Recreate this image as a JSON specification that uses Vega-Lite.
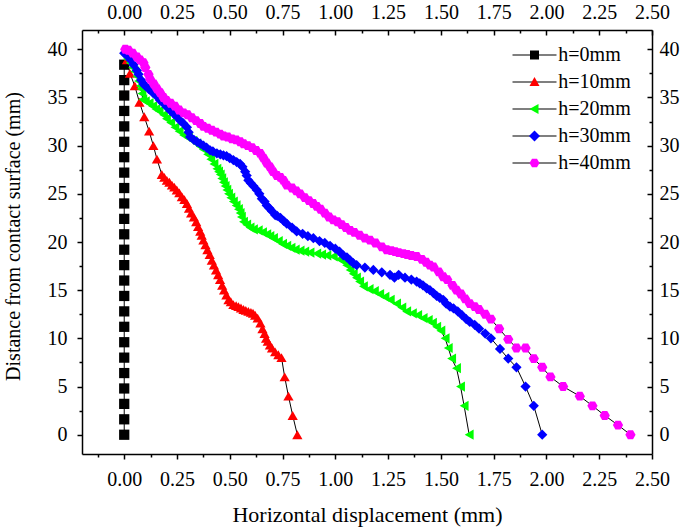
{
"$schema":"https://vega.github.io/schema/vega-lite/v6.json",
"width":570,"height":424,"autosize":"none",
"padding":{"left":82,"top":30,"right":33,"bottom":76},
"background":"white",
"config":{"view":{"stroke":null},
 "axis":{"labelFont":"Liberation Serif","labelFontSize":20,"labelColor":"black","tickColor":"black","domainColor":"black","domainWidth":1.5,"tickWidth":1.5,"grid":false,"labelFlush":false,"labelOverlap":false,"titleFont":"Liberation Serif","titleFontSize":22,"titleFontWeight":"normal","titleColor":"black"}},
"data":{"values":[
{"s":"h=0mm","x":0,"y":38.4},{"s":"h=0mm","x":0,"y":36.8},{"s":"h=0mm","x":0,"y":35.2},{"s":"h=0mm","x":0,"y":33.6},{"s":"h=0mm","x":0,"y":32},{"s":"h=0mm","x":0,"y":30.4},{"s":"h=0mm","x":0,"y":28.8},{"s":"h=0mm","x":0,"y":27.2},{"s":"h=0mm","x":0,"y":25.6},{"s":"h=0mm","x":0,"y":24},{"s":"h=0mm","x":0,"y":22.4},{"s":"h=0mm","x":0,"y":20.8},{"s":"h=0mm","x":0,"y":19.2},{"s":"h=0mm","x":0,"y":17.6},{"s":"h=0mm","x":0,"y":16},{"s":"h=0mm","x":0,"y":14.4},{"s":"h=0mm","x":0,"y":12.8},{"s":"h=0mm","x":0,"y":11.2},{"s":"h=0mm","x":0,"y":9.6},{"s":"h=0mm","x":0,"y":8},{"s":"h=0mm","x":0,"y":6.4},{"s":"h=0mm","x":0,"y":4.8},{"s":"h=0mm","x":0,"y":3.2},{"s":"h=0mm","x":0,"y":1.6},{"s":"h=0mm","x":0,"y":0},
{"s":"h=10mm","x":0.013,"y":38.9},{"s":"h=10mm","x":0.027,"y":37.5},{"s":"h=10mm","x":0.05,"y":36.2},{"s":"h=10mm","x":0.072,"y":34.5},{"s":"h=10mm","x":0.095,"y":33.0},{"s":"h=10mm","x":0.118,"y":31.5},{"s":"h=10mm","x":0.138,"y":30.0},{"s":"h=10mm","x":0.155,"y":28.6},{"s":"h=10mm","x":0.178,"y":27.0},{"s":"h=10mm","x":0.19,"y":26.7},{"s":"h=10mm","x":0.202,"y":26.4},{"s":"h=10mm","x":0.214,"y":26.2},{"s":"h=10mm","x":0.226,"y":25.9},{"s":"h=10mm","x":0.237,"y":25.7},{"s":"h=10mm","x":0.249,"y":25.4},{"s":"h=10mm","x":0.261,"y":25.1},{"s":"h=10mm","x":0.273,"y":24.7},{"s":"h=10mm","x":0.285,"y":24.4},{"s":"h=10mm","x":0.297,"y":24.0},{"s":"h=10mm","x":0.307,"y":23.5},{"s":"h=10mm","x":0.317,"y":23.0},{"s":"h=10mm","x":0.33,"y":22.6},{"s":"h=10mm","x":0.341,"y":22.1},{"s":"h=10mm","x":0.35,"y":21.6},{"s":"h=10mm","x":0.36,"y":21.1},{"s":"h=10mm","x":0.367,"y":20.7},{"s":"h=10mm","x":0.375,"y":20.2},{"s":"h=10mm","x":0.385,"y":19.7},{"s":"h=10mm","x":0.394,"y":19.2},{"s":"h=10mm","x":0.405,"y":18.7},{"s":"h=10mm","x":0.415,"y":18.1},{"s":"h=10mm","x":0.425,"y":17.6},{"s":"h=10mm","x":0.435,"y":17.1},{"s":"h=10mm","x":0.445,"y":16.6},{"s":"h=10mm","x":0.454,"y":16.1},{"s":"h=10mm","x":0.464,"y":15.5},{"s":"h=10mm","x":0.473,"y":15.0},{"s":"h=10mm","x":0.484,"y":14.5},{"s":"h=10mm","x":0.494,"y":14.0},{"s":"h=10mm","x":0.505,"y":13.8},{"s":"h=10mm","x":0.517,"y":13.5},{"s":"h=10mm","x":0.53,"y":13.4},{"s":"h=10mm","x":0.541,"y":13.3},{"s":"h=10mm","x":0.553,"y":13.15},{"s":"h=10mm","x":0.565,"y":13.0},{"s":"h=10mm","x":0.576,"y":12.9},{"s":"h=10mm","x":0.588,"y":12.8},{"s":"h=10mm","x":0.6,"y":12.7},{"s":"h=10mm","x":0.61,"y":12.6},{"s":"h=10mm","x":0.62,"y":12.4},{"s":"h=10mm","x":0.632,"y":12.1},{"s":"h=10mm","x":0.645,"y":11.6},{"s":"h=10mm","x":0.655,"y":11.0},{"s":"h=10mm","x":0.665,"y":10.5},{"s":"h=10mm","x":0.672,"y":10.0},{"s":"h=10mm","x":0.68,"y":9.7},{"s":"h=10mm","x":0.69,"y":9.3},{"s":"h=10mm","x":0.7,"y":9.0},{"s":"h=10mm","x":0.715,"y":8.6},{"s":"h=10mm","x":0.73,"y":8.3},{"s":"h=10mm","x":0.745,"y":8.0},{"s":"h=10mm","x":0.76,"y":6.0},{"s":"h=10mm","x":0.778,"y":4.0},{"s":"h=10mm","x":0.798,"y":2.0},{"s":"h=10mm","x":0.82,"y":0},
{"s":"h=20mm","x":0.005,"y":39.4},{"s":"h=20mm","x":0.015,"y":39.0},{"s":"h=20mm","x":0.028,"y":38.6},{"s":"h=20mm","x":0.04,"y":38.1},{"s":"h=20mm","x":0.05,"y":37.7},{"s":"h=20mm","x":0.06,"y":37.2},{"s":"h=20mm","x":0.068,"y":36.7},{"s":"h=20mm","x":0.076,"y":36.2},{"s":"h=20mm","x":0.08,"y":35.9},{"s":"h=20mm","x":0.084,"y":35.4},{"s":"h=20mm","x":0.088,"y":34.8},{"s":"h=20mm","x":0.1,"y":34.6},{"s":"h=20mm","x":0.118,"y":34.4},{"s":"h=20mm","x":0.135,"y":34.1},{"s":"h=20mm","x":0.15,"y":33.8},{"s":"h=20mm","x":0.165,"y":33.6},{"s":"h=20mm","x":0.186,"y":33.2},{"s":"h=20mm","x":0.2,"y":32.8},{"s":"h=20mm","x":0.22,"y":32.4},{"s":"h=20mm","x":0.24,"y":31.9},{"s":"h=20mm","x":0.26,"y":31.5},{"s":"h=20mm","x":0.281,"y":31.1},{"s":"h=20mm","x":0.305,"y":30.8},{"s":"h=20mm","x":0.325,"y":30.5},{"s":"h=20mm","x":0.344,"y":30.2},{"s":"h=20mm","x":0.36,"y":29.9},{"s":"h=20mm","x":0.375,"y":29.6},{"s":"h=20mm","x":0.395,"y":29.1},{"s":"h=20mm","x":0.41,"y":28.6},{"s":"h=20mm","x":0.425,"y":28.1},{"s":"h=20mm","x":0.439,"y":27.6},{"s":"h=20mm","x":0.447,"y":27.3},{"s":"h=20mm","x":0.455,"y":27.0},{"s":"h=20mm","x":0.462,"y":26.6},{"s":"h=20mm","x":0.47,"y":26.2},{"s":"h=20mm","x":0.478,"y":25.8},{"s":"h=20mm","x":0.486,"y":25.4},{"s":"h=20mm","x":0.494,"y":25.0},{"s":"h=20mm","x":0.505,"y":24.6},{"s":"h=20mm","x":0.517,"y":24.2},{"s":"h=20mm","x":0.53,"y":23.8},{"s":"h=20mm","x":0.541,"y":23.4},{"s":"h=20mm","x":0.549,"y":23.0},{"s":"h=20mm","x":0.555,"y":22.6},{"s":"h=20mm","x":0.565,"y":22.1},{"s":"h=20mm","x":0.58,"y":21.8},{"s":"h=20mm","x":0.596,"y":21.5},{"s":"h=20mm","x":0.612,"y":21.3},{"s":"h=20mm","x":0.635,"y":21.2},{"s":"h=20mm","x":0.655,"y":21.0},{"s":"h=20mm","x":0.675,"y":20.8},{"s":"h=20mm","x":0.69,"y":20.6},{"s":"h=20mm","x":0.707,"y":20.4},{"s":"h=20mm","x":0.73,"y":20.1},{"s":"h=20mm","x":0.75,"y":19.8},{"s":"h=20mm","x":0.77,"y":19.6},{"s":"h=20mm","x":0.79,"y":19.4},{"s":"h=20mm","x":0.81,"y":19.2},{"s":"h=20mm","x":0.833,"y":19.1},{"s":"h=20mm","x":0.855,"y":19.0},{"s":"h=20mm","x":0.88,"y":18.9},{"s":"h=20mm","x":0.912,"y":18.8},{"s":"h=20mm","x":0.935,"y":18.7},{"s":"h=20mm","x":0.96,"y":18.6},{"s":"h=20mm","x":0.99,"y":18.5},{"s":"h=20mm","x":1.02,"y":18.2},{"s":"h=20mm","x":1.04,"y":18.0},{"s":"h=20mm","x":1.054,"y":17.6},{"s":"h=20mm","x":1.07,"y":17.1},{"s":"h=20mm","x":1.085,"y":16.7},{"s":"h=20mm","x":1.1,"y":16.3},{"s":"h=20mm","x":1.115,"y":15.9},{"s":"h=20mm","x":1.133,"y":15.4},{"s":"h=20mm","x":1.16,"y":15.1},{"s":"h=20mm","x":1.185,"y":14.9},{"s":"h=20mm","x":1.21,"y":14.6},{"s":"h=20mm","x":1.235,"y":14.3},{"s":"h=20mm","x":1.26,"y":14.0},{"s":"h=20mm","x":1.29,"y":13.6},{"s":"h=20mm","x":1.315,"y":13.2},{"s":"h=20mm","x":1.338,"y":12.8},{"s":"h=20mm","x":1.365,"y":12.6},{"s":"h=20mm","x":1.39,"y":12.4},{"s":"h=20mm","x":1.416,"y":12.1},{"s":"h=20mm","x":1.44,"y":11.9},{"s":"h=20mm","x":1.46,"y":11.6},{"s":"h=20mm","x":1.48,"y":11.2},{"s":"h=20mm","x":1.5,"y":10.8},{"s":"h=20mm","x":1.52,"y":10.0},{"s":"h=20mm","x":1.535,"y":9.0},{"s":"h=20mm","x":1.551,"y":7.9},{"s":"h=20mm","x":1.574,"y":6.9},{"s":"h=20mm","x":1.593,"y":5.0},{"s":"h=20mm","x":1.61,"y":3.0},{"s":"h=20mm","x":1.634,"y":0},
{"s":"h=30mm","x":0.0,"y":39.6},{"s":"h=30mm","x":0.015,"y":39.3},{"s":"h=30mm","x":0.03,"y":38.9},{"s":"h=30mm","x":0.044,"y":38.4},{"s":"h=30mm","x":0.06,"y":37.8},{"s":"h=30mm","x":0.068,"y":37.4},{"s":"h=30mm","x":0.08,"y":36.8},{"s":"h=30mm","x":0.091,"y":36.4},{"s":"h=30mm","x":0.1,"y":36.2},{"s":"h=30mm","x":0.115,"y":35.9},{"s":"h=30mm","x":0.135,"y":35.5},{"s":"h=30mm","x":0.155,"y":35.1},{"s":"h=30mm","x":0.17,"y":34.7},{"s":"h=30mm","x":0.185,"y":34.4},{"s":"h=30mm","x":0.202,"y":34.0},{"s":"h=30mm","x":0.22,"y":33.6},{"s":"h=30mm","x":0.235,"y":33.3},{"s":"h=30mm","x":0.249,"y":33.0},{"s":"h=30mm","x":0.265,"y":32.6},{"s":"h=30mm","x":0.28,"y":32.3},{"s":"h=30mm","x":0.297,"y":31.9},{"s":"h=30mm","x":0.305,"y":31.4},{"s":"h=30mm","x":0.312,"y":30.9},{"s":"h=30mm","x":0.33,"y":30.6},{"s":"h=30mm","x":0.345,"y":30.4},{"s":"h=30mm","x":0.36,"y":30.2},{"s":"h=30mm","x":0.375,"y":30.0},{"s":"h=30mm","x":0.39,"y":29.8},{"s":"h=30mm","x":0.407,"y":29.5},{"s":"h=30mm","x":0.42,"y":29.4},{"s":"h=30mm","x":0.439,"y":29.2},{"s":"h=30mm","x":0.455,"y":29.1},{"s":"h=30mm","x":0.47,"y":29.0},{"s":"h=30mm","x":0.485,"y":28.9},{"s":"h=30mm","x":0.5,"y":28.7},{"s":"h=30mm","x":0.517,"y":28.5},{"s":"h=30mm","x":0.533,"y":28.3},{"s":"h=30mm","x":0.549,"y":28.1},{"s":"h=30mm","x":0.56,"y":27.8},{"s":"h=30mm","x":0.573,"y":27.3},{"s":"h=30mm","x":0.58,"y":26.9},{"s":"h=30mm","x":0.588,"y":26.4},{"s":"h=30mm","x":0.6,"y":26.1},{"s":"h=30mm","x":0.612,"y":25.8},{"s":"h=30mm","x":0.628,"y":25.4},{"s":"h=30mm","x":0.64,"y":25.0},{"s":"h=30mm","x":0.652,"y":24.5},{"s":"h=30mm","x":0.665,"y":24.2},{"s":"h=30mm","x":0.675,"y":23.8},{"s":"h=30mm","x":0.688,"y":23.5},{"s":"h=30mm","x":0.7,"y":23.2},{"s":"h=30mm","x":0.715,"y":22.8},{"s":"h=30mm","x":0.725,"y":22.7},{"s":"h=30mm","x":0.74,"y":22.5},{"s":"h=30mm","x":0.755,"y":22.2},{"s":"h=30mm","x":0.77,"y":21.9},{"s":"h=30mm","x":0.795,"y":21.5},{"s":"h=30mm","x":0.817,"y":21.1},{"s":"h=30mm","x":0.845,"y":20.85},{"s":"h=30mm","x":0.87,"y":20.6},{"s":"h=30mm","x":0.896,"y":20.4},{"s":"h=30mm","x":0.925,"y":20.1},{"s":"h=30mm","x":0.95,"y":19.9},{"s":"h=30mm","x":0.975,"y":19.6},{"s":"h=30mm","x":1.0,"y":19.3},{"s":"h=30mm","x":1.02,"y":19.0},{"s":"h=30mm","x":1.038,"y":18.6},{"s":"h=30mm","x":1.055,"y":18.4},{"s":"h=30mm","x":1.07,"y":18.1},{"s":"h=30mm","x":1.085,"y":17.8},{"s":"h=30mm","x":1.101,"y":17.6},{"s":"h=30mm","x":1.14,"y":17.35},{"s":"h=30mm","x":1.18,"y":17.1},{"s":"h=30mm","x":1.22,"y":16.85},{"s":"h=30mm","x":1.259,"y":16.6},{"s":"h=30mm","x":1.28,"y":16.3},{"s":"h=30mm","x":1.3,"y":16.6},{"s":"h=30mm","x":1.33,"y":16.3},{"s":"h=30mm","x":1.36,"y":16.1},{"s":"h=30mm","x":1.385,"y":15.9},{"s":"h=30mm","x":1.4,"y":15.7},{"s":"h=30mm","x":1.415,"y":15.5},{"s":"h=30mm","x":1.433,"y":15.2},{"s":"h=30mm","x":1.448,"y":15.0},{"s":"h=30mm","x":1.465,"y":14.7},{"s":"h=30mm","x":1.48,"y":14.4},{"s":"h=30mm","x":1.495,"y":14.2},{"s":"h=30mm","x":1.511,"y":14.0},{"s":"h=30mm","x":1.525,"y":13.6},{"s":"h=30mm","x":1.543,"y":13.3},{"s":"h=30mm","x":1.56,"y":13.1},{"s":"h=30mm","x":1.58,"y":12.8},{"s":"h=30mm","x":1.6,"y":12.4},{"s":"h=30mm","x":1.62,"y":12.0},{"s":"h=30mm","x":1.637,"y":11.7},{"s":"h=30mm","x":1.66,"y":11.4},{"s":"h=30mm","x":1.681,"y":11.0},{"s":"h=30mm","x":1.71,"y":10.5},{"s":"h=30mm","x":1.737,"y":10.0},{"s":"h=30mm","x":1.78,"y":8.9},{"s":"h=30mm","x":1.819,"y":7.9},{"s":"h=30mm","x":1.858,"y":7.0},{"s":"h=30mm","x":1.901,"y":5.0},{"s":"h=30mm","x":1.94,"y":3.0},{"s":"h=30mm","x":1.98,"y":0},
{"s":"h=40mm","x":0.005,"y":40.0},{"s":"h=40mm","x":0.02,"y":39.9},{"s":"h=40mm","x":0.04,"y":39.6},{"s":"h=40mm","x":0.06,"y":39.2},{"s":"h=40mm","x":0.075,"y":38.9},{"s":"h=40mm","x":0.091,"y":38.6},{"s":"h=40mm","x":0.1,"y":38.1},{"s":"h=40mm","x":0.115,"y":37.4},{"s":"h=40mm","x":0.123,"y":36.9},{"s":"h=40mm","x":0.14,"y":36.4},{"s":"h=40mm","x":0.155,"y":35.9},{"s":"h=40mm","x":0.17,"y":35.5},{"s":"h=40mm","x":0.186,"y":35.0},{"s":"h=40mm","x":0.2,"y":34.7},{"s":"h=40mm","x":0.22,"y":34.4},{"s":"h=40mm","x":0.24,"y":34.1},{"s":"h=40mm","x":0.26,"y":33.7},{"s":"h=40mm","x":0.281,"y":33.4},{"s":"h=40mm","x":0.3,"y":33.2},{"s":"h=40mm","x":0.32,"y":32.9},{"s":"h=40mm","x":0.34,"y":32.6},{"s":"h=40mm","x":0.36,"y":32.3},{"s":"h=40mm","x":0.375,"y":32.0},{"s":"h=40mm","x":0.395,"y":31.8},{"s":"h=40mm","x":0.415,"y":31.6},{"s":"h=40mm","x":0.435,"y":31.4},{"s":"h=40mm","x":0.454,"y":31.2},{"s":"h=40mm","x":0.47,"y":31.0},{"s":"h=40mm","x":0.49,"y":30.9},{"s":"h=40mm","x":0.51,"y":30.7},{"s":"h=40mm","x":0.53,"y":30.6},{"s":"h=40mm","x":0.549,"y":30.4},{"s":"h=40mm","x":0.565,"y":30.2},{"s":"h=40mm","x":0.585,"y":30.0},{"s":"h=40mm","x":0.605,"y":29.8},{"s":"h=40mm","x":0.625,"y":29.5},{"s":"h=40mm","x":0.644,"y":29.2},{"s":"h=40mm","x":0.66,"y":28.7},{"s":"h=40mm","x":0.675,"y":28.2},{"s":"h=40mm","x":0.69,"y":27.8},{"s":"h=40mm","x":0.705,"y":27.3},{"s":"h=40mm","x":0.723,"y":26.9},{"s":"h=40mm","x":0.74,"y":26.7},{"s":"h=40mm","x":0.754,"y":26.4},{"s":"h=40mm","x":0.77,"y":25.9},{"s":"h=40mm","x":0.795,"y":25.6},{"s":"h=40mm","x":0.815,"y":25.3},{"s":"h=40mm","x":0.833,"y":25.0},{"s":"h=40mm","x":0.855,"y":24.6},{"s":"h=40mm","x":0.875,"y":24.3},{"s":"h=40mm","x":0.895,"y":24.0},{"s":"h=40mm","x":0.912,"y":23.7},{"s":"h=40mm","x":0.93,"y":23.4},{"s":"h=40mm","x":0.95,"y":23.0},{"s":"h=40mm","x":0.97,"y":22.6},{"s":"h=40mm","x":0.99,"y":22.3},{"s":"h=40mm","x":1.01,"y":22.1},{"s":"h=40mm","x":1.03,"y":21.8},{"s":"h=40mm","x":1.05,"y":21.5},{"s":"h=40mm","x":1.07,"y":21.2},{"s":"h=40mm","x":1.09,"y":21.0},{"s":"h=40mm","x":1.115,"y":20.7},{"s":"h=40mm","x":1.14,"y":20.4},{"s":"h=40mm","x":1.164,"y":20.2},{"s":"h=40mm","x":1.19,"y":19.9},{"s":"h=40mm","x":1.22,"y":19.5},{"s":"h=40mm","x":1.243,"y":19.2},{"s":"h=40mm","x":1.265,"y":19.1},{"s":"h=40mm","x":1.283,"y":19.0},{"s":"h=40mm","x":1.3,"y":18.9},{"s":"h=40mm","x":1.322,"y":18.8},{"s":"h=40mm","x":1.34,"y":18.7},{"s":"h=40mm","x":1.36,"y":18.6},{"s":"h=40mm","x":1.385,"y":18.5},{"s":"h=40mm","x":1.41,"y":18.2},{"s":"h=40mm","x":1.43,"y":17.9},{"s":"h=40mm","x":1.448,"y":17.6},{"s":"h=40mm","x":1.465,"y":17.4},{"s":"h=40mm","x":1.49,"y":16.9},{"s":"h=40mm","x":1.511,"y":16.4},{"s":"h=40mm","x":1.53,"y":16.1},{"s":"h=40mm","x":1.555,"y":15.5},{"s":"h=40mm","x":1.574,"y":15.0},{"s":"h=40mm","x":1.595,"y":14.6},{"s":"h=40mm","x":1.615,"y":14.1},{"s":"h=40mm","x":1.637,"y":13.6},{"s":"h=40mm","x":1.66,"y":13.3},{"s":"h=40mm","x":1.68,"y":13.0},{"s":"h=40mm","x":1.71,"y":12.5},{"s":"h=40mm","x":1.737,"y":12.0},{"s":"h=40mm","x":1.776,"y":11.0},{"s":"h=40mm","x":1.819,"y":9.9},{"s":"h=40mm","x":1.858,"y":9.0},{"s":"h=40mm","x":1.901,"y":9.0},{"s":"h=40mm","x":1.94,"y":7.9},{"s":"h=40mm","x":1.98,"y":7.0},{"s":"h=40mm","x":2.019,"y":6.0},{"s":"h=40mm","x":2.079,"y":5.0},{"s":"h=40mm","x":2.158,"y":4.0},{"s":"h=40mm","x":2.218,"y":3.0},{"s":"h=40mm","x":2.276,"y":2.0},{"s":"h=40mm","x":2.339,"y":1.0},{"s":"h=40mm","x":2.398,"y":0}
]},
"transform":[{"window":[{"op":"row_number","as":"i"}],"groupby":["s"]}],
"layer":[
 {"mark":{"type":"line","color":"black","strokeWidth":1},
  "encoding":{
   "x":{"field":"x","type":"quantitative","scale":{"domain":[-0.2,2.5],"nice":false,"zero":false},
     "axis":{"orient":"bottom","title":"Horizontal displacement (mm)","values":[-0.125,0,0.125,0.25,0.375,0.5,0.625,0.75,0.875,1,1.125,1.25,1.375,1.5,1.625,1.75,1.875,2,2.125,2.25,2.375,2.5],
       "labelExpr":"abs(datum.value*4-round(datum.value*4))>0.01 ? '' : format(datum.value,'.2f')",
       "tickSize":{"condition":{"test":"abs(datum.value*4-round(datum.value*4))>0.01","value":3},"value":5},
       "labelPadding":10,"titlePadding":15}},
   "y":{"field":"y","type":"quantitative","scale":{"domain":[-2,42],"nice":false,"zero":false},
     "axis":{"orient":"left","title":"Distance from contact surface (mm)","titleFontSize":20,"titleY":206,"values":[0,2.5,5,7.5,10,12.5,15,17.5,20,22.5,25,27.5,30,32.5,35,37.5,40],
       "labelExpr":"abs(datum.value/5-round(datum.value/5))>0.01 ? '' : format(datum.value,'d')",
       "tickSize":{"condition":{"test":"abs(datum.value/5-round(datum.value/5))>0.01","value":3},"value":5},
       "labelPadding":10,"titlePadding":24}},
   "detail":{"field":"s"},
   "order":{"field":"i","type":"quantitative"}}},
 {"mark":{"type":"point","filled":true,"size":105,"opacity":1},
  "encoding":{
   "x":{"field":"x","type":"quantitative","scale":{"domain":[-0.2,2.5],"nice":false,"zero":false},
     "axis":{"orient":"top","title":null,"values":[-0.125,0,0.125,0.25,0.375,0.5,0.625,0.75,0.875,1,1.125,1.25,1.375,1.5,1.625,1.75,1.875,2,2.125,2.25,2.375,2.5],
       "labelExpr":"abs(datum.value*4-round(datum.value*4))>0.01 ? '' : format(datum.value,'.2f')",
       "tickSize":{"condition":{"test":"abs(datum.value*4-round(datum.value*4))>0.01","value":-3},"value":-5},
       "labelPadding":13}},
   "y":{"field":"y","type":"quantitative","scale":{"domain":[-2,42],"nice":false,"zero":false},
     "axis":{"orient":"right","title":null,"values":[0,2.5,5,7.5,10,12.5,15,17.5,20,22.5,25,27.5,30,32.5,35,37.5,40],
       "labelExpr":"abs(datum.value/5-round(datum.value/5))>0.01 ? '' : format(datum.value,'d')",
       "tickSize":{"condition":{"test":"abs(datum.value/5-round(datum.value/5))>0.01","value":-3},"value":-5},
       "labelPadding":12}},
   "shape":{"field":"s","type":"nominal","legend":null,"scale":{"domain":["h=0mm","h=10mm","h=20mm","h=30mm","h=40mm"],"range":["square","triangle-up","triangle-left","diamond","M-1,0L-0.5,-0.866L0.5,-0.866L1,0L0.5,0.866L-0.5,0.866Z"]}},
   "color":{"field":"s","type":"nominal","legend":null,"scale":{"domain":["h=0mm","h=10mm","h=20mm","h=30mm","h=40mm"],"range":["#000000","#ff0000","#00ff00","#0000ff","#ff00ff"]}}}},
 {"transform":[{"filter":"datum.y < -100"}],
  "mark":{"type":"point","filled":true,"size":100,"opacity":1},
  "encoding":{
   "x":{"field":"x","type":"quantitative","axis":null},
   "y":{"field":"y","type":"quantitative","axis":null},
   "shape":{"field":"s","type":"nominal","scale":{"domain":["h=0mm","h=10mm","h=20mm","h=30mm","h=40mm"],"range":[
     "M-4.4,-0.12H4.4V0.12H-4.4Z","M-4.4,-0.12H4.4V0.12H-4.4Z","M-4.4,-0.12H4.4V0.12H-4.4Z","M-4.4,-0.12H4.4V0.12H-4.4Z","M-4.4,-0.12H4.4V0.12H-4.4Z"]},
     "legend":{"title":null,"orient":"none","legendX":442.5,"legendY":15,"padding":0,"rowPadding":7,"symbolSize":100,"symbolStrokeWidth":0,"labelFont":"Liberation Serif","labelFontSize":20,"labelColor":"black","labelOpacity":0,"labelOffset":13.8}},
   "fill":{"field":"s","type":"nominal","scale":{"domain":["h=0mm","h=10mm","h=20mm","h=30mm","h=40mm"],"range":["#000000","#000000","#000000","#000000","#000000"]},
     "legend":{"title":null,"orient":"none","legendX":442.5,"legendY":15,"padding":0,"rowPadding":7,"symbolSize":100,"symbolStrokeWidth":0,"labelFont":"Liberation Serif","labelFontSize":20,"labelColor":"black","labelOpacity":0,"labelOffset":13.8}}}},
 {"transform":[{"filter":"datum.y < -100"}],
  "mark":{"type":"point","filled":true,"size":100,"opacity":1},
  "encoding":{
   "x":{"field":"x","type":"quantitative","axis":null},
   "y":{"field":"y","type":"quantitative","axis":null},
   "shape":{"field":"s","type":"nominal","scale":{"domain":["h=0mm","h=10mm","h=20mm","h=30mm","h=40mm"],"range":[
     "M-0.9,-0.9H0.9V0.9H-0.9Z",
     "M0,-1L1,0.8L-1,0.8Z",
     "M-1,0L0.8,-1L0.8,1Z",
     "M-1.1,0L0,-1.1L1.1,0L0,1.1Z",
     "M-1,0L-0.5,-0.866L0.5,-0.866L1,0L0.5,0.866L-0.5,0.866Z"]},
     "legend":{"title":null,"orient":"none","legendX":442.5,"legendY":15,"padding":0,"rowPadding":7,"symbolSize":100,"symbolStrokeWidth":0,"labelFont":"Liberation Serif","labelFontSize":20,"labelColor":"black","labelOffset":13.8}},
   "fill":{"field":"s","type":"nominal","scale":{"domain":["h=0mm","h=10mm","h=20mm","h=30mm","h=40mm"],"range":["#000000","#ff0000","#00ff00","#0000ff","#ff00ff"]},
     "legend":{"title":null,"orient":"none","legendX":442.5,"legendY":15,"padding":0,"rowPadding":7,"symbolSize":100,"symbolStrokeWidth":0,"labelFont":"Liberation Serif","labelFontSize":20,"labelColor":"black","labelOffset":13.8}}}}
],
"resolve":{"axis":{"x":"independent","y":"independent"},"scale":{"shape":"independent","fill":"independent"},"legend":{"shape":"independent","fill":"independent"}}
}
